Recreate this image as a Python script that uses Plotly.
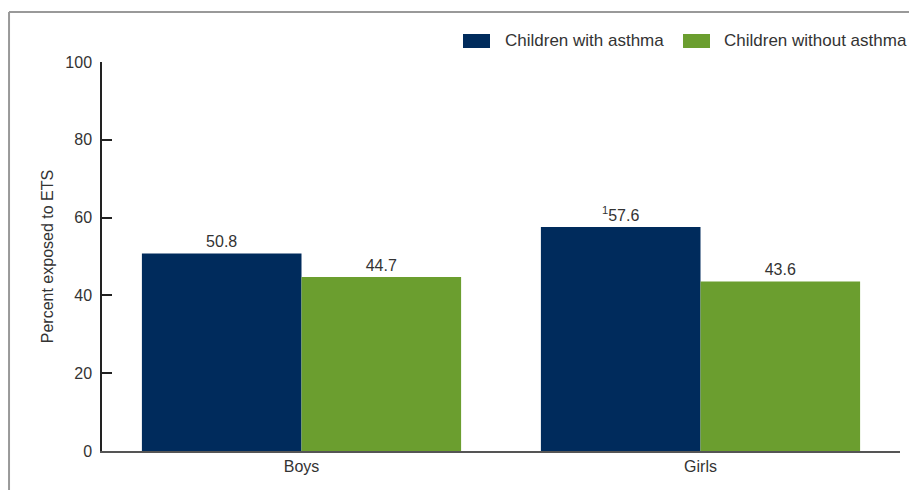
import plotly.graph_objects as go

categories = ["Boys", "Girls"]
series_names = ["Children with asthma", "Children without asthma"]
with_asthma = [50.8, 57.6]
without_asthma = [44.7, 43.6]
with_notes = ["", "1"]
without_notes = ["", ""]
y_ticks = [0, 20, 40, 60, 80, 100]
colors = ["#002b5c", "#6b9e2f"]

def labels(vals, notes):
    return [(f"<sup>{n}</sup>" if n else "") + f"{v:.1f}" for v, n in zip(vals, notes)]

font = "Liberation Sans, Arial, sans-serif"
txt = "#333333"
fig = go.Figure()
for name, vals, notes, col in [(series_names[0], with_asthma, with_notes, colors[0]),
                               (series_names[1], without_asthma, without_notes, colors[1])]:
    fig.add_trace(go.Bar(name=name, x=categories, y=vals,
                         marker=dict(color=col, line=dict(width=0)),
                         text=labels(vals, notes), textposition="outside",
                         textfont=dict(size=16, color=txt), cliponaxis=False))

# manual legend (rectangular swatches like the reference)
legend_boxes = [(0.4524, 0.4862, 0.5025), (0.7281, 0.7619, 0.7769)]
shapes = []
annotations = []
for (x0, x1, xt), name, col in zip(legend_boxes, series_names, colors):
    shapes.append(dict(type="rect", xref="paper", yref="paper", x0=x0, x1=x1, y0=1.036, y1=1.072,
                       fillcolor=col, line=dict(width=0)))
    annotations.append(dict(xref="paper", yref="paper", x=xt, y=1.054, xanchor="left", yanchor="middle",
                            text=name, showarrow=False, font=dict(size=17, color=txt)))

shapes += [
    dict(type="line", xref="paper", yref="paper", x0=-0.1165, x1=-0.1165, y0=-0.2, y1=1.1285,
         line=dict(color="#999999", width=2)),
    dict(type="line", xref="paper", yref="paper", x0=-0.1165, x1=1.1, y0=1.1285, y1=1.1285,
         line=dict(color="#999999", width=2)),
]

fig.update_layout(
    width=909, height=482,
    margin=dict(l=94, r=17, t=54, b=39),
    paper_bgcolor="white", plot_bgcolor="white",
    font=dict(family=font, size=16, color=txt),
    barmode="group", bargap=0.2, bargroupgap=0,
    showlegend=False,
    xaxis=dict(showline=True, linecolor="#555555", linewidth=2, ticks="",
               tickfont=dict(size=16, color=txt), showgrid=False),
    yaxis=dict(range=[0, 100], tickvals=y_ticks, showline=True, linecolor="#222222",
               linewidth=1.5, ticks="inside", ticklen=10, tickwidth=2, tickcolor="#222222",
               showgrid=False, zeroline=False, ticklabelstandoff=5,
               title=dict(text="Percent exposed to ETS", font=dict(size=16, color=txt), standoff=8),
               tickfont=dict(size=16, color=txt)),
    shapes=shapes,
    annotations=annotations,
)
fig.write_html("out.html")
